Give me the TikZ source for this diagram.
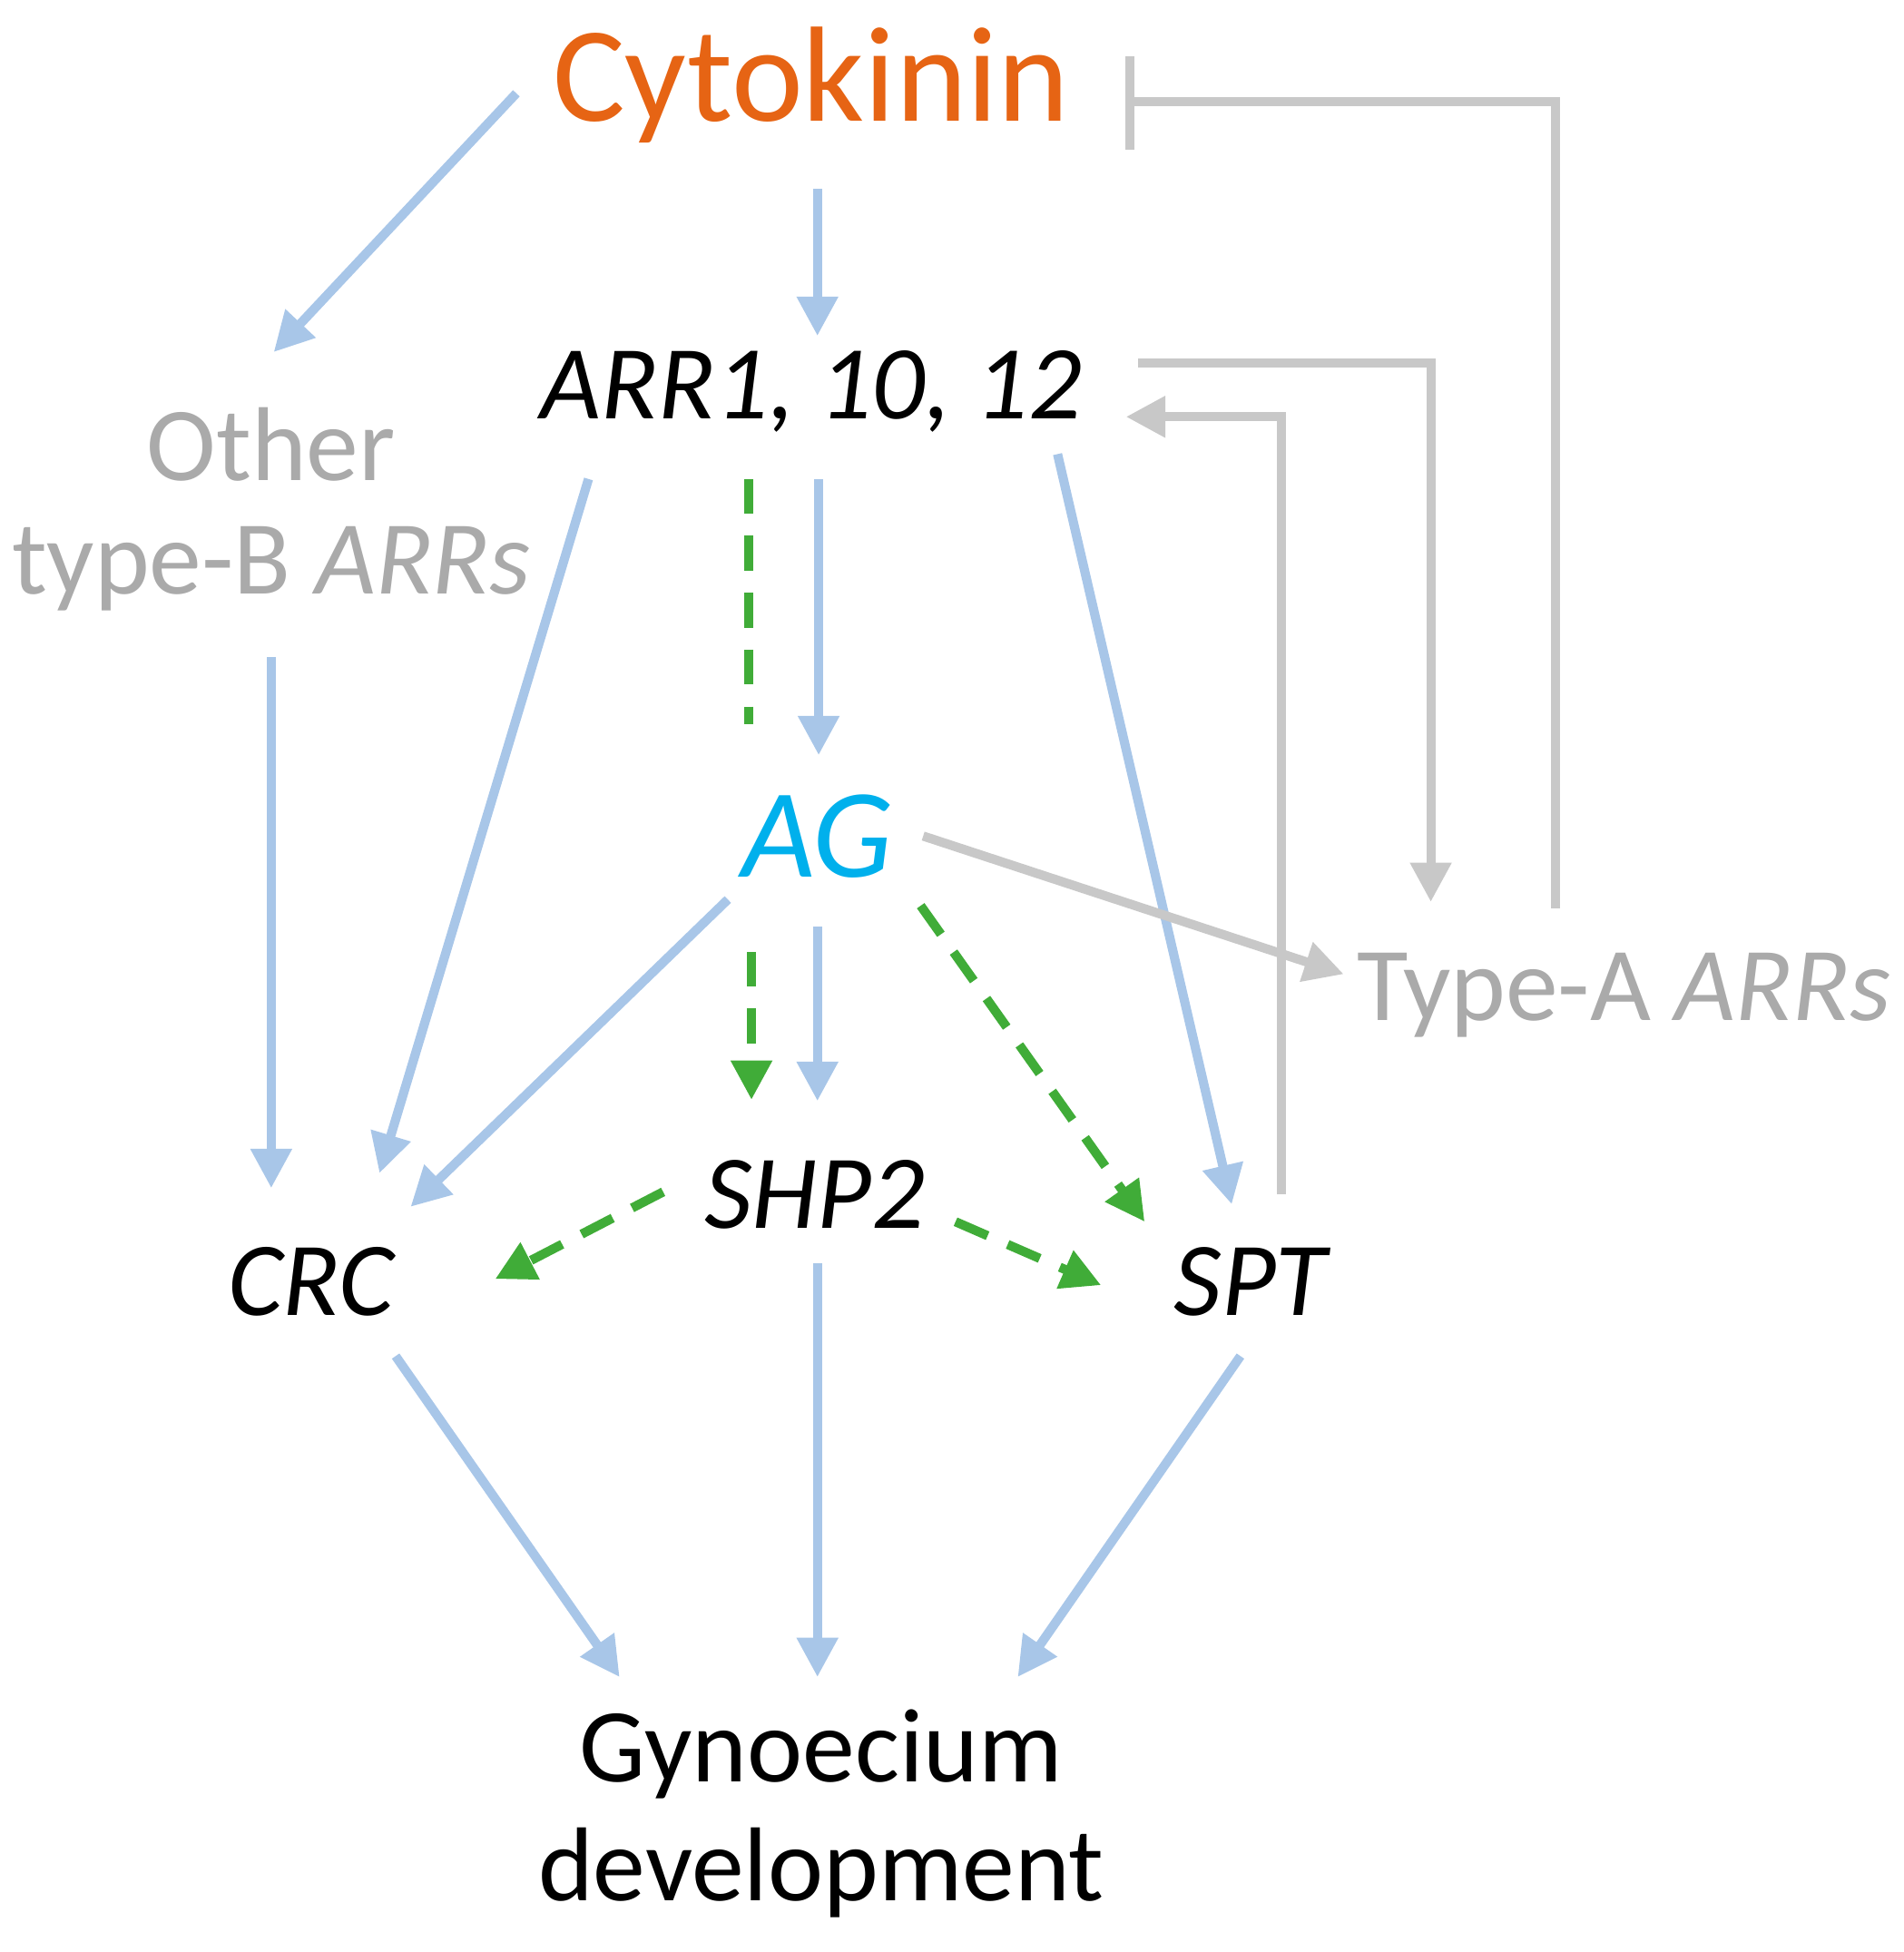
\documentclass[tikz,border=0pt]{standalone}
\usepackage{fontspec}
\setmainfont{Carlito}
\usetikzlibrary{arrows.meta}
\definecolor{bl}{RGB}{168,198,232}
\definecolor{gr}{RGB}{200,200,200}
\definecolor{gt}{RGB}{170,170,170}
\definecolor{gn}{RGB}{64,172,56}
\definecolor{or}{RGB}{230,100,20}
\definecolor{cy}{RGB}{0,176,236}
\begin{document}
\begin{tikzpicture}[x=0.01cm,y=-0.01cm,
  lbl/.style={font=\fontsize{24}{30}\selectfont,inner sep=0},
  ba/.style={draw=bl,line width=2.1pt,-{Triangle[length=9pt,width=9pt]}},
  ga/.style={draw=gr,line width=2.1pt,-{Triangle[length=9pt,width=9pt]}},
  gd/.style={draw=gn,line width=2.1pt,dash pattern=on 8pt off 5pt,-{Triangle[length=9pt,width=9pt]}},
  gl/.style={draw=gn,line width=2.1pt,dash pattern=on 8pt off 5pt}]
\useasboundingbox (0,0) rectangle (1530,1569);
\node[lbl,font=\fontsize{31}{36}\selectfont,text=or] (cyto) at (652,68) {Cytokinin};
\node[lbl,font=\fontsize{24}{30}\itshape] (arr) at (652,315) {ARR1, 10, 12};
\node[lbl,text=gt] (oth1) at (218,357) {Other};
\node[lbl,text=gt] (oth2) at (218,457) {type-B \textit{ARRs}};
\node[lbl,font=\fontsize{29}{34}\itshape,text=cy] (ag) at (657,672) {AG};
\node[lbl,text=gt] (typea) at (1305,800) {Type-A \textit{ARRs}};
\node[lbl,font=\fontsize{24}{30}\itshape] (shp) at (655,960) {SHP2};
\node[lbl,font=\fontsize{24}{30}\itshape] (crc) at (250,1030) {CRC};
\node[lbl,font=\fontsize{24}{30}\itshape] (spt) at (1005,1030) {SPT};
\node[lbl] (gyn1) at (660,1410) {Gynoecium};
\node[lbl] (gyn2) at (660,1505) {development};
% coordinates
\coordinate (c1) at (415,75); \coordinate (o1) at (220,283);
\coordinate (c2) at (657,152); \coordinate (a0) at (657,270);
\coordinate (a1) at (658,385); \coordinate (g0) at (658,607);
\coordinate (a2) at (602,385); \coordinate (g1) at (602,582);
\coordinate (a3) at (473,385); \coordinate (r0) at (305,943);
\coordinate (a4) at (850,365); \coordinate (s0) at (990,968);
\coordinate (o2) at (218,528); \coordinate (r1) at (218,955);
\coordinate (g2) at (585,723); \coordinate (r2) at (330,970);
\coordinate (g3) at (657,745); \coordinate (h0) at (657,885);
\coordinate (g4) at (604,765); \coordinate (h1) at (604,884);
\coordinate (g5) at (740,728); \coordinate (s1) at (920,982);
\coordinate (g6) at (742,672); \coordinate (t0) at (1080,783);
\coordinate (h2) at (533,958); \coordinate (r3) at (398,1028);
\coordinate (h3) at (768,982); \coordinate (s2) at (885,1033);
\coordinate (h4) at (657,1015); \coordinate (y0) at (657,1348);
\coordinate (r4) at (318,1090); \coordinate (y1) at (498,1348);
\coordinate (s3) at (997,1090); \coordinate (y2) at (818,1348);
\coordinate (t1) at (1250,730); \coordinate (c3) at (908,82);
\coordinate (b1) at (908,45); \coordinate (b2) at (908,120);
\coordinate (a5) at (915,292); \coordinate (t2) at (1150,725);
\coordinate (s4) at (1030,960); \coordinate (a6) at (905,335);
% blue
\draw[ba] (c1) -- (o1);
\draw[ba] (c2) -- (a0);
\draw[ba] (a1) -- (g0);
\draw[gl] (a2) -- (g1);
\draw[ba] (a3) -- (r0);
\draw[ba] (a4) -- (s0);
\draw[ba] (o2) -- (r1);
\draw[ba] (g2) -- (r2);
\draw[ba] (g3) -- (h0);
\draw[gd] (g4) -- (h1);
\draw[gd] (g5) -- (s1);
\draw[ga] (g6) -- (t0);
\draw[gd] (h2) -- (r3);
\draw[gd] (h3) -- (s2);
\draw[ba] (h4) -- (y0);
\draw[ba] (r4) -- (y1);
\draw[ba] (s3) -- (y2);
% gray feedback
\draw[draw=gr,line width=2.1pt] (t1) |- (c3);
\draw[draw=gr,line width=2.1pt] (b1) -- (b2);
\draw[ga] (a5) -| (t2);
\draw[ga] (s4) |- (a6);
\end{tikzpicture}
\end{document}
